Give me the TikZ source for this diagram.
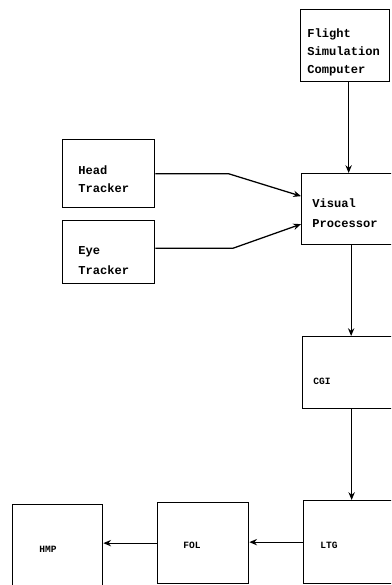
\documentclass[tikz,border=0pt]{standalone}
\usepackage{fontspec}
\setmonofont{Liberation Mono}
\usetikzlibrary{arrows.meta,calc}

\tikzset{
  blk/.style={draw, line width=0.9pt, rectangle, anchor=north west, inner sep=0pt},
  txt/.style={anchor=west, align=left, inner sep=0pt,
    font=\fontsize{8.6}{12.8}\selectfont\ttfamily\bfseries},
  wide/.style={font=\fontsize{8.6}{14.5}\selectfont\ttfamily\bfseries},
  tag/.style={anchor=west, inner sep=0pt, font=\fontsize{6.8}{8}\selectfont\ttfamily\bfseries},
  link/.style={->, line width=0.9pt}
}

\begin{document}
\begin{tikzpicture}[x=0.025cm, y=-0.025cm, >={Stealth[length=5.5pt,width=4.5pt]}]
    \useasboundingbox (0,0) rectangle (391,585);
    \clip (0,0) rectangle (391,585);

    % boxes
    \node[blk, minimum width=2.225cm, minimum height=1.8cm] (fsc) at (300,9) {};
    \node[blk, minimum width=2.475cm, minimum height=1.775cm] (vp) at (301,173) {};
    \node[blk, minimum width=2.3cm, minimum height=1.7cm] (head) at (62,139) {};
    \node[blk, minimum width=2.3cm, minimum height=1.575cm] (eye) at (62,220) {};
    \node[blk, minimum width=2.45cm, minimum height=1.8cm] (cgi) at (302,336) {};
    \node[blk, minimum width=2.425cm, minimum height=2.075cm] (ltg) at (303,500) {};
    \node[blk, minimum width=2.275cm, minimum height=2.025cm] (fol) at (157,502) {};
    \node[blk, minimum width=2.25cm, minimum height=2.3cm] (hmp) at (12,504) {};

    % box texts
    \node[txt] (fsc-t) at ($(fsc.west)+(7,7)$) {Flight\\Simulation\\Computer};
    \node[txt, wide] (vp-t) at ($(vp.west)+(11,4)$) {Visual\\Processor};
    \node[txt] (head-t) at ($(head.west)+(16,6)$) {Head\\Tracker};
    \node[txt, wide] (eye-t) at ($(eye.west)+(16,8.5)$) {Eye\\Tracker};
    \node[tag] (cgi-t) at ($(cgi.west)+(11,9)$) {CGI};
    \node[tag] (ltg-t) at ($(ltg.west)+(17,3.5)$) {LTG};
    \node[tag] (fol-t) at ($(fol.west)+(26,2.5)$) {FOL};
    \node[tag] (hmp-t) at ($(hmp.west)+(27,-1)$) {HMP};

    % connectors
    \coordinate (fsc-out) at ($(fsc.south)+(3.5,0)$);
    \draw[link] (fsc-out) -- (fsc-out |- vp.north);
    \draw[link] (head.east) -- ++(73,0) -- ($(vp.west)+(0,-13)$);
    \draw[link] ($(eye.east)+(0,-4)$) -- ++(78,0) -- ($(vp.west)+(0,15)$);
    \draw[link] (vp.south) -- (vp.south |- cgi.north);
    \draw[link] (cgi.south) -- (cgi.south |- ltg.north);
    \draw[link] (ltg.west) -- (ltg.west -| fol.east);
    \draw[link] (fol.west) -- (fol.west -| hmp.east);
\end{tikzpicture}
\end{document}
